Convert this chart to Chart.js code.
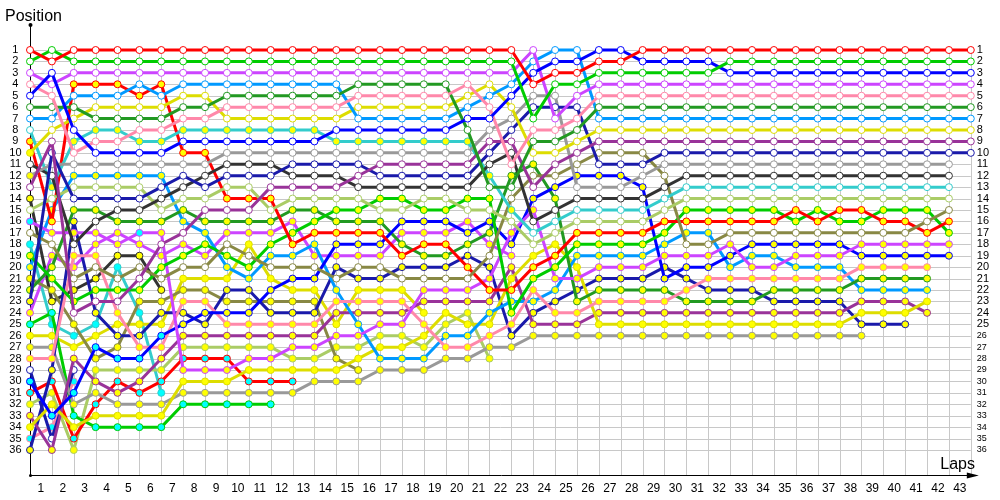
<!DOCTYPE html>
<html>
<head>
<meta charset="utf-8">
<script src="https://cdn.jsdelivr.net/npm/chart.js@4.4.1/dist/chart.umd.min.js"></script>
<style>
  html, body { margin: 0; padding: 0; background: #fff; }
  #wrap { width: 1000px; height: 500px; }
</style>
</head>
<body>
<div id="wrap"><canvas id="laps" width="1000" height="500"></canvas></div>
<script>
// tick labels
const lapTicks = [0,1,2,3,4,5,6,7,8,9,10,11,12,13,14,15,16,17,18,19,20,21,22,23,24,25,26,27,28,29,30,31,32,33,34,35,36,37,38,39,40,41,42,43];
const posTicks = [1,2,3,4,5,6,7,8,9,10,11,12,13,14,15,16,17,18,19,20,21,22,23,24,25,26,27,28,29,30,31,32,33,34,35,36];

// position per lap (index = lap, 0 = grid)
const red1 = [1,2,1,1,1,1,1,1,1,1, 1,1,1,1,1,1,1,1,1,1, 1,1,1,4,3,3,2,2,1,1, 1,1,1,1,1,1,1,1,1,1, 1,1,1,1];
const green1 = [2,1,2,2,2,2,2,2,2,2, 2,2,2,2,2,2,2,2,2,2, 2,2,2,7,4,4,3,3,3,3, 3,3,2,2,2,2,2,2,2,2, 2,2,2,2];
const blue1 = [5,3,8,10,10,10,10,9,9,9, 9,9,9,9,8,8,8,8,8,8, 7,7,5,3,2,2,1,1,2,2, 2,2,3,3,3,3,3,3,3,3, 3,3,3,3];
const magenta1 = [3,4,3,3,3,3,3,3,3,3, 3,3,3,3,3,3,3,3,3,3, 3,3,3,1,7,5,4,4,4,4, 4,4,4,4,4,4,4,4,4,4, 4,4,4,4];
const pink1 = [4,5,10,9,9,8,8,7,7,6, 6,6,6,6,6,5,5,5,5,5, 4,6,11,8,8,7,5,5,5,5, 5,5,5,5,5,5,5,5,5,5, 5,5,5,5];
const dkgreen1 = [6,6,6,7,7,7,7,6,6,5, 5,5,5,5,5,4,4,4,4,4, 8,13,13,9,9,8,6,6,6,6, 6,6,6,6,6,6,6,6,6,6, 6,6,6,6];
const ltblue1 = [7,7,5,5,5,4,5,4,4,4, 4,4,4,4,4,7,7,7,7,7, 6,5,4,2,1,1,7,7,7,7, 7,7,7,7,7,7,7,7,7,7, 7,7,7,7];
const yellow1 = [10,8,7,6,6,6,6,5,5,7, 7,7,7,7,7,6,6,6,6,6, 5,4,6,10,10,9,8,8,8,8, 8,8,8,8,8,8,8,8,8,8, 8,8,8,8];
const purple1 = [13,9,24,23,23,21,18,17,15,15, 15,13,13,13,13,12,11,11,11,11, 11,9,9,13,11,10,9,9,9,9, 9,9,9,9,9,9,9,9,9,9, 9,9,9,9];
const navy1 = [23,10,14,14,14,14,13,12,13,12, 12,12,11,11,11,11,12,12,12,12, 12,10,8,6,6,6,11,11,11,10, 10,10,10,10,10,10,10,10,10,10, 10,10,10,10];
const grey1 = [12,11,11,11,11,11,11,11,11,10, 10,10,10,10,10,10,10,10,10,10, 10,8,7,5,5,13,13,13,12,11, 11,11,11,11,11,11,11,11,11,11, 11,11,11];
const black1 = [11,12,18,16,15,15,14,13,12,11, 11,11,12,12,12,13,13,13,13,13, 13,11,10,16,15,14,14,14,14,13, 12,12,12,12,12,12,12,12,12,12, 12,12,12];
const cyan1 = [8,13,9,8,8,9,9,8,8,8, 8,8,8,8,9,9,9,9,9,9, 9,12,15,17,16,15,15,15,15,14, 13,13,13,13,13,13,13,13,13,13, 13,13,13];
const ltgreen1 = [15,14,13,13,13,13,15,14,14,13, 13,15,14,14,14,14,15,15,14,14, 15,15,16,18,17,16,16,16,16,15, 14,14,14,14,14,14,14,14,14,14, 14,14,14];
const olive1 = [17,18,21,20,21,20,21,20,20,18, 19,20,20,20,21,20,20,21,21,21, 21,19,14,12,12,11,10,10,10,12, 18,18,17,17,17,17,17,17,17,17, 17,16,15];
const red2 = [9,16,4,4,4,5,4,10,10,14, 14,14,18,17,17,17,17,19,18,18, 20,22,22,20,19,17,17,17,17,16, 16,16,16,16,16,15,16,15,15,16, 16,17,16];
const green2 = [19,21,23,22,22,22,20,19,18,19, 20,18,17,16,15,15,14,14,15,15, 14,14,24,21,20,18,18,18,18,17, 15,15,15,15,15,16,15,16,16,15, 15,15,17];
const magenta2 = [16,17,17,17,18,17,17,29,29,29, 28,28,27,27,26,26,25,25,22,22, 22,21,17,15,21,21,20,20,20,19, 19,19,18,20,20,19,19,19,18,18, 18,18,18];
const blue2 = [30,33,31,27,28,28,26,25,24,24, 24,22,21,21,18,18,18,16,16,16, 17,16,18,14,13,12,12,12,13,21, 20,20,19,18,18,18,18,18,19,19, 19,19,19];
const pink2 = [28,28,19,19,24,27,27,23,23,25, 25,25,25,25,23,23,23,23,25,27, 27,26,25,22,24,24,23,23,23,23, 22,21,21,21,21,21,21,21,20,20, 20,20];
const dkgreen2 = [22,20,15,15,16,16,16,15,16,16, 16,16,15,15,16,16,16,18,19,19, 18,17,12,11,14,23,22,22,22,22, 23,23,23,23,22,22,22,22,21,21, 21,21];
const ltblue2 = [20,15,12,12,12,12,12,16,17,20, 21,19,19,18,22,25,28,28,28,26, 26,24,23,23,22,19,19,19,19,18, 17,17,20,19,19,20,20,20,22,22, 22,22];
const yellow2 = [34,32,34,33,33,33,33,30,30,30, 29,29,29,29,29,28,27,27,26,24, 25,25,21,19,18,20,25,25,25,25, 25,25,25,25,25,25,25,25,24,24, 24,23];
const purple2 = [33,36,28,30,31,30,28,26,26,26, 26,26,26,26,24,24,24,24,23,23, 23,23,20,25,25,25,24,24,24,24, 24,24,24,24,24,24,24,24,23,23, 23,24];
const navy2 = [36,29,16,24,26,26,24,24,25,22, 22,24,24,24,20,21,21,20,20,20, 19,20,26,24,23,22,21,21,21,20, 21,22,22,22,23,23,23,23,25,25, 25];
const grey2 = [27,27,32,31,32,32,32,31,31,31, 31,31,31,30,30,30,29,29,29,28, 28,27,27,26,26,26,26,26,26,26, 26,26,26,26,26,26,26,26,26];
const red3 = [31,30,35,32,30,31,30,28,28,28, 30,30,30];
const green3 = [25,24,33,34,34,34,34,32,32,32, 32,32];
const olive2 = [21,22,25,28,27,23,23,22,22,23, 23,23,23,23,28,29];
const ltgreen2 = [32,31,36,29,29,29,29,27,27,27, 27,27,28,28,27,27,26,26,27,25, 24,28];
const magenta3 = [24,19,20,18,17,18,19,18,19,17, 17,17,16,19,19,19,19,17,17,17, 16,18,19];
const yellow3 = [26,26,27,26,25,25,25,21,21,21, 18,21,22,22,25,22,22,22,24];
const black2 = [14,23,22,21,19,19,22];
const cyan2 = [18,25,26,25,20,24,31];
const navy3 = [29,35,29];
const pink3 = [35,34,30];

const driverSeries = [red1, green1, blue1, magenta1, pink1, dkgreen1, ltblue1, yellow1, purple1, navy1,
  grey1, black1, cyan1, ltgreen1, olive1, red2, green2, magenta2, blue2, pink2, dkgreen2, ltblue2,
  yellow2, purple2, navy2, grey2, red3, green3, olive2, ltgreen2, magenta3, yellow3, black2, cyan2, navy3, pink3];

const C = {red:'#ff0000', green:'#00cc00', blue:'#0000ff', magenta:'#cc44ff', pink:'#ff88aa', dkgreen:'#229922',
  ltblue:'#0099ff', yellow:'#dddd00', purple:'#993399', navy:'#1a1aaa', grey:'#999999', black:'#333333',
  cyan:'#33cccc', ltgreen:'#aacc66', olive:'#888844'};
const driverColors = [C.red, C.green, C.blue, C.magenta, C.pink, C.dkgreen, C.ltblue, C.yellow, C.purple, C.navy,
  C.grey, C.black, C.cyan, C.ltgreen, C.olive, C.red, C.green, C.magenta, C.blue, C.pink, C.dkgreen, C.ltblue,
  C.yellow, C.purple, C.navy, C.grey, C.red, C.green, C.olive, C.ltgreen, C.magenta, C.yellow, C.black, C.cyan, C.navy, C.pink];

// marker fill per lap: w = white, y = yellow, c = cyan (last letter repeats)
const driverStatus = ['w','w','w','w','w','w','w','yw','w','yw',
  'yw','w','wyyyyyyyyyyyyyyyyyyyyyyw','w','w','y','y','cyyyycy','cccccccy','y','y','y',
  'y','y','y','y','c','c','y','y','y','y','y','c','w','c'];
const fillColors = {w:'#ffffff', y:'#ffff00', c:'#00ffff'};

function statusAt(s, lap) { return s[Math.min(lap, s.length - 1)]; }

const datasets = driverSeries.map((pos, i) => ({
  data: pos.map((p, lap) => ({x: lap, y: p})),
  borderColor: driverColors[i],
  backgroundColor: driverColors[i],
  borderWidth: 3,
  borderJoinStyle: 'round',
  tension: 0,
  pointRadius: 3.5,
  pointBorderWidth: 1,
  pointBorderColor: driverColors[i],
  pointBackgroundColor: pos.map((p, lap) => fillColors[statusAt(driverStatus[i], lap)]),
  clip: false
}));

// grid, axis lines and axis titles
const frame = {
  id: 'frame',
  beforeDatasetsDraw(chart) {
    const {ctx, scales: {x, y}} = chart;
    const x0 = x.getPixelForValue(0), x1 = x.getPixelForValue(43);
    const yTop = y.getPixelForValue(1), yBot = y.bottom;
    ctx.save();
    ctx.lineWidth = 1;
    ctx.strokeStyle = '#c8c8c8';
    ctx.beginPath();
    posTicks.forEach(p => {
      const py = Math.round(y.getPixelForValue(p)) + 0.5;
      ctx.moveTo(x0, py); ctx.lineTo(x1, py);
    });
    lapTicks.forEach(l => {
      const px = Math.round(x.getPixelForValue(l)) + 0.5;
      ctx.moveTo(px, yTop); ctx.lineTo(px, yBot);
    });
    ctx.stroke();

    // axes
    ctx.strokeStyle = '#000';
    ctx.fillStyle = '#000';
    const ax = Math.round(x0) + 0.5, ay = Math.round(yBot) + 0.5;
    ctx.beginPath();
    ctx.moveTo(ax, y.top); ctx.lineTo(ax, ay);
    ctx.lineTo(x1 + 2, ay);
    ctx.stroke();
    ctx.beginPath();
    ctx.moveTo(x1 + 8, ay); ctx.lineTo(x1 - 4, ay - 3); ctx.lineTo(x1 - 4, ay + 3); ctx.closePath();
    ctx.fill();
    ctx.beginPath(); ctx.arc(ax, y.top, 2, 0, Math.PI * 2); ctx.fill();
    ctx.beginPath(); ctx.arc(ax, ay, 1.5, 0, Math.PI * 2); ctx.fill();

    ctx.font = '16px "Liberation Sans", Arial, sans-serif';
    ctx.textBaseline = 'alphabetic';
    ctx.textAlign = 'left';
    ctx.fillText('Position', 5, 21);
    ctx.textAlign = 'right';
    ctx.fillText('Laps', 975, 469);
    ctx.restore();
  }
};

const tickFont = {family: '"Liberation Sans", Arial, sans-serif', size: 11};

new Chart(document.getElementById('laps'), {
  type: 'line',
  data: {datasets},
  options: {
    responsive: false,
    devicePixelRatio: 1,
    animation: false,
    events: [],
    layout: {padding: {top: 25, left: 0, right: 0, bottom: 0}},
    plugins: {legend: {display: false}, tooltip: {enabled: false}},
    scales: {
      x: {
        type: 'linear', min: 0, max: 43, position: 'bottom',
        grid: {display: false, drawTicks: false}, border: {display: false},
        ticks: {autoSkip: false, maxRotation: 0, minRotation: 0, labelOffset: -10.94, padding: 6,
          font: {family: tickFont.family, size: 12}, color: '#000',
          callback: v => v === 0 ? '' : String(v)},
        afterBuildTicks: s => { s.ticks = lapTicks.map(v => ({value: v})); },
        afterFit: s => { s.height = 25; }
      },
      y: {
        type: 'linear', reverse: true, min: -1.1875, max: 38.1875, position: 'left',
        grid: {display: false, drawTicks: false}, border: {display: false},
        ticks: {autoSkip: false, crossAlign: 'center', padding: 8.5, font: tickFont, color: '#000'},
        afterBuildTicks: s => { s.ticks = posTicks.map(v => ({value: v})); },
        afterFit: s => { s.width = 30; }
      },
      y2: {
        type: 'linear', reverse: true, min: -1.1875, max: 38.1875, position: 'right',
        grid: {display: false, drawTicks: false}, border: {display: false},
        ticks: {autoSkip: false, crossAlign: 'near', padding: 6, color: '#000',
          font: ctx => ({family: tickFont.family, size: ctx.tick && ctx.tick.value > 25 ? 9 : 11})},
        afterBuildTicks: s => { s.ticks = posTicks.map(v => ({value: v})); },
        afterFit: s => { s.width = 29.19; }
      }
    }
  },
  plugins: [frame]
});
</script>
</body>
</html>
